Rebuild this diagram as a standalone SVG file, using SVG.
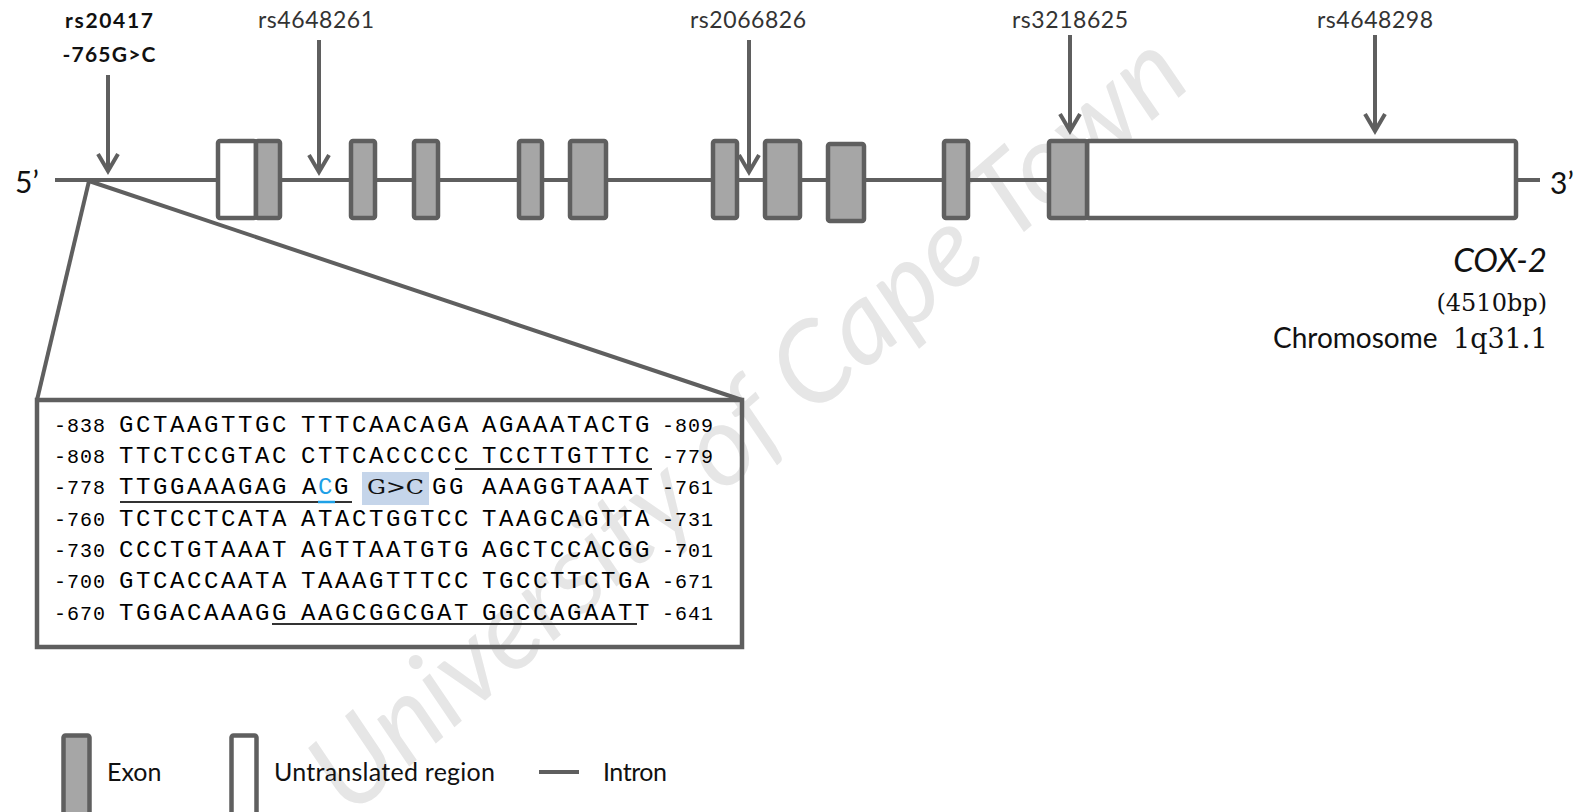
<svg xmlns="http://www.w3.org/2000/svg" width="1576" height="812" viewBox="0 0 1576 812">
<style>
.lbl{font-family:Lato,"Liberation Sans",sans-serif;font-size:23px;fill:#333}
.bold{font-family:Lato,"Liberation Sans",sans-serif;font-size:21px;font-weight:bold;fill:#111}
.big{font-family:Lato,"Liberation Sans",sans-serif;fill:#111}
.serif{font-family:"DejaVu Serif","Liberation Serif",serif;fill:#111}
.ex{fill:#a6a6a6;stroke:#5f5f5f;stroke-width:4.5}
.utr{fill:#fff;stroke:#5f5f5f;stroke-width:4.5}
.ln{stroke:#5f5f5f;stroke-width:4;fill:none}
.seq{font-family:"Liberation Mono",monospace;font-size:24px;letter-spacing:2.6px;fill:#000}
.num{font-family:"Liberation Mono",monospace;font-size:20px;letter-spacing:1px;fill:#000}
.ul{stroke:#333;stroke-width:2}
.wm{font-family:Lato,"Liberation Sans",sans-serif;font-style:italic;font-size:112px;fill:#e6e6e6}
</style>
<defs>
<marker id="ah" markerUnits="userSpaceOnUse" viewBox="-20 -12 24 24" refX="0" refY="0" markerWidth="24" markerHeight="24" orient="auto">
<polyline points="-17,-10 0,0 -17,10" fill="none" stroke="#5f5f5f" stroke-width="4"/>
</marker>
</defs>

<text class="wm" transform="translate(350,818) rotate(-41)">University of Cape Town</text>

<g id="intron">
<line class="ln" x1="55" y1="180" x2="1540" y2="180"/>
<line class="ln" x1="866" y1="180" x2="912" y2="180" stroke-width="6"/>
</g>

<g id="gene">
<rect class="utr" x="218" y="141" width="38" height="77" rx="2"/>
<rect class="ex" x="256" y="141" width="24" height="77" rx="2"/>
<rect class="ex" x="351" y="141" width="24" height="77" rx="2"/>
<rect class="ex" x="414" y="141" width="24" height="77" rx="2"/>
<rect class="ex" x="519" y="141" width="23" height="77" rx="2"/>
<rect class="ex" x="570" y="141" width="36" height="77" rx="2"/>
<rect class="ex" x="713" y="141" width="24" height="77" rx="2"/>
<rect class="ex" x="765" y="141" width="35" height="77" rx="2"/>
<rect class="ex" x="828" y="144" width="36" height="77" rx="2"/>
<rect class="ex" x="944" y="141" width="24" height="77" rx="2"/>
<rect class="utr" x="1087" y="141" width="429" height="77" rx="2"/>
<rect class="ex" x="1049" y="141" width="38" height="77" rx="2"/>
</g>

<g id="ends">
<text class="big" x="15" y="193" font-size="30">5’</text>
<text class="big" x="1550" y="194" font-size="30">3’</text>
</g>

<g id="gene-label">
<text class="big" x="1547" y="272" font-size="33" font-style="italic" text-anchor="end">COX-2</text>
<text class="serif" x="1547" y="311" font-size="24" text-anchor="end">(4510bp)</text>
<text class="big" y="348" font-size="28"><tspan x="1273">Chromosome</tspan><tspan class="serif" x="1453" font-size="27">1q31.1</tspan></text>
</g>

<g id="snp-labels">
<text class="bold" x="109" y="28" text-anchor="middle" textLength="88">rs20417</text>
<text class="bold" x="109" y="62" text-anchor="middle" textLength="93">-765G&gt;C</text>
<text class="lbl" x="316" y="28" text-anchor="middle" textLength="116">rs4648261</text>
<text class="lbl" x="748" y="28" text-anchor="middle" textLength="116">rs2066826</text>
<text class="lbl" x="1070" y="28" text-anchor="middle" textLength="116">rs3218625</text>
<text class="lbl" x="1375" y="28" text-anchor="middle" textLength="116">rs4648298</text>
</g>

<g id="connectors">
<line class="ln" x1="108" y1="75" x2="108" y2="171" marker-end="url(#ah)"/>
<line class="ln" x1="319" y1="40" x2="319" y2="172" marker-end="url(#ah)"/>
<line class="ln" x1="749" y1="40" x2="749" y2="172" marker-end="url(#ah)"/>
<line class="ln" x1="1070" y1="35" x2="1070" y2="131" marker-end="url(#ah)"/>
<line class="ln" x1="1375" y1="35" x2="1375" y2="131" marker-end="url(#ah)"/>
<line class="ln" x1="89" y1="181" x2="37" y2="400"/>
<line class="ln" x1="89" y1="181" x2="742" y2="400"/>
</g>

<g id="sequence">
<rect x="37" y="400" width="705" height="247" fill="none" stroke="#5f5f5f" stroke-width="4.5"/>
<rect x="362" y="472" width="67" height="33" fill="#c5d5ea"/>
<text class="num" y="432"><tspan x="54">-838</tspan><tspan x="662">-809</tspan></text>
<text class="seq" y="432"><tspan x="119">GCTAAGTTGC</tspan><tspan x="301">TTTCAACAGA</tspan><tspan x="482">AGAAATACTG</tspan></text>
<text class="num" y="463"><tspan x="54">-808</tspan><tspan x="662">-779</tspan></text>
<text class="seq" y="463"><tspan x="119">TTCTCCGTAC</tspan><tspan x="301">CTTCACCCCC</tspan><tspan x="482">TCCTTGTTTC</tspan></text>
<text class="num" y="494"><tspan x="54">-778</tspan><tspan x="662">-761</tspan></text>
<text class="seq" y="494"><tspan x="119">TTGGAAAGAG</tspan><tspan x="302">A</tspan><tspan x="318" fill="#1ea0e6">C</tspan><tspan x="334">G</tspan><tspan x="432">GG</tspan><tspan x="482">AAAGGTAAAT</tspan></text>
<text class="serif" x="367" y="494" font-size="20" fill="#34465a" textLength="57" lengthAdjust="spacingAndGlyphs">G&gt;C</text>
<text class="num" y="526"><tspan x="54">-760</tspan><tspan x="662">-731</tspan></text>
<text class="seq" y="526"><tspan x="119">TCTCCTCATA</tspan><tspan x="301">ATACTGGTCC</tspan><tspan x="482">TAAGCAGTTA</tspan></text>
<text class="num" y="557"><tspan x="54">-730</tspan><tspan x="662">-701</tspan></text>
<text class="seq" y="557"><tspan x="119">CCCTGTAAAT</tspan><tspan x="301">AGTTAATGTG</tspan><tspan x="482">AGCTCCACGG</tspan></text>
<text class="num" y="588"><tspan x="54">-700</tspan><tspan x="662">-671</tspan></text>
<text class="seq" y="588"><tspan x="119">GTCACCAATA</tspan><tspan x="301">TAAAGTTTCC</tspan><tspan x="482">TGCCTTCTGA</tspan></text>
<text class="num" y="620"><tspan x="54">-670</tspan><tspan x="662">-641</tspan></text>
<text class="seq" y="620"><tspan x="119">TGGACAAAGG</tspan><tspan x="301">AAGCGGCGAT</tspan><tspan x="482">GGCCAGAATT</tspan></text>
<line class="ul" x1="455" y1="469" x2="652" y2="469"/>
<line class="ul" x1="120" y1="502" x2="352" y2="502"/>
<line x1="318" y1="502" x2="335" y2="502" stroke="#1ea0e6" stroke-width="2.5"/>
<line class="ul" x1="272" y1="624" x2="637" y2="624"/>
</g>

<g id="legend">
<g id="legend-exon">
<rect class="ex" x="63.5" y="735.5" width="26" height="80" rx="2"/>
<text class="big" x="107" y="781" font-size="25" fill="#222">Exon</text>
</g>
<g id="legend-utr">
<rect class="utr" x="231.5" y="735.5" width="25" height="80" rx="2"/>
<text class="big" x="274" y="781" font-size="25" fill="#222" textLength="221">Untranslated region</text>
</g>
<g id="legend-intron">
<line class="ln" x1="539" y1="772" x2="579" y2="772"/>
<text class="big" x="603" y="781" font-size="25" fill="#222" textLength="64">Intron</text>
</g>
</g>
</svg>
